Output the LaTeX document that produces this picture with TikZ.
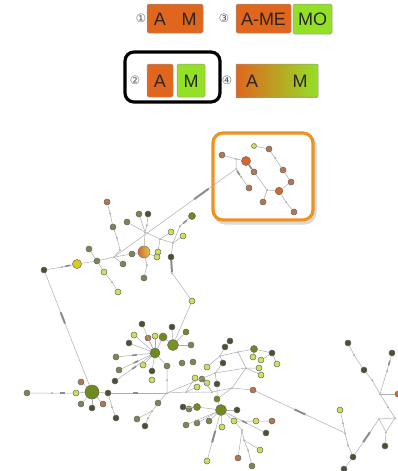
\documentclass[tikz,border=0pt]{standalone}
\usepackage{fontspec}
\setmainfont{Liberation Sans}
\newfontfamily\symf{DejaVu Sans}
\definecolor{ygc}{HTML}{D2DE5A}
\definecolor{dkc}{HTML}{4B5233}
\definecolor{ggc}{HTML}{7E8452}
\definecolor{grc}{HTML}{6F8A1E}
\definecolor{brc}{HTML}{B5764E}
\definecolor{orc}{HTML}{D9652A}
\definecolor{legor}{HTML}{E0661E}
\definecolor{leggr}{HTML}{94E026}
\definecolor{frameor}{HTML}{F0921E}
\tikzset{
 nd/.style={circle, draw=black!60, line width=0.5pt, inner sep=0pt, minimum size=6pt},
 yg/.style={nd, fill=ygc},
 dk/.style={nd, fill=dkc},
 gg/.style={nd, fill=ggc},
 gr/.style={nd, fill=grc},
 br/.style={nd, fill=brc},
 orn/.style={nd, fill=orc},
 dt/.style={circle, fill=black!40, inner sep=0pt, minimum size=2pt},
 ed/.style={draw=black!32, line width=0.5pt},
 tk/.style={sloped, fill=black!45, inner sep=0pt, minimum width=5pt, minimum height=1.6pt},
 tkl/.style={sloped, fill=black!45, inner sep=0pt, minimum width=12pt, minimum height=2pt},
 lbox/.style={draw=black!40, line width=0.5pt, rounded corners=1.5pt},
 ltxt/.style={font=\fontsize{18}{18}\selectfont, inner sep=0pt, text=black!85},
 cnum/.style={font=\symf\fontsize{11.5}{11.5}\selectfont, inner sep=0pt, text=black!65}
}
\begin{document}
\begin{tikzpicture}[x=1pt,y=-1pt]
\useasboundingbox (0,0) rectangle (398,471);
% ---------------- legend
\node[cnum] (c1) at (141,18) {①};
\draw[lbox, fill=legor] (147,4) rectangle (203,33);
\node[ltxt] (t1a) at (160,19) {A};
\node[ltxt] (t1m) at (189,19) {M};
\node[cnum] (c3) at (224,18) {③};
\draw[lbox, fill=legor] (236,4) rectangle (291,33);
\node[ltxt] (t3a) at (263.5,19) {A-ME};
\draw[lbox, fill=leggr] (293,4) rectangle (332,34);
\node[ltxt] (t3m) at (312.5,19) {MO};
\node[cnum] (c2) at (135,80) {②};
\draw[lbox, fill=legor] (147,64) rectangle (173,97);
\node[ltxt] (t2a) at (160,81) {A};
\draw[lbox, fill=leggr] (177,64) rectangle (205,97);
\node[ltxt] (t2m) at (191,81) {M};
\draw[line width=3.2pt, rounded corners=9pt] (125,52) rectangle (220,102);
\node[cnum] (c4) at (227,80) {④};
\shade[left color=legor, right color=leggr] (236,64) rectangle (318,97);
\draw[lbox] (236,64) rectangle (318,97);
\node[ltxt] (t4a) at (252,81) {A};
\node[ltxt] (t4m) at (300,81) {M};
% ---------------- orange frame
\draw[black!15, line width=3pt, rounded corners=10pt] (215,136) rectangle (315,223);
\draw[frameor, line width=3.2pt, rounded corners=10pt, fill=white] (213,133) rectangle (313,220);
% orange cluster nodes
\node[yg, minimum size=5pt] (o1) at (254,146) {};
\node[br] (o2) at (269,149) {};
\node[br] (o3) at (222,155) {};
\node[orn, minimum size=9pt] (o4) at (246,161) {};
\node[dt] (od1) at (236,159) {};
\node[dt] (od2) at (236,169) {};
\node[br] (o5) at (254,172) {};
\node[br] (o6) at (283,170) {};
\node[br] (o7) at (291,182) {};
\node[orn, minimum size=7.5pt] (o8) at (279,191) {};
\node[br] (o9) at (249,188) {};
\node[br] (o10) at (263,202) {};
\node[br] (o11) at (294,212) {};
\node[dt] (od3) at (275,158) {};
\node[dt] (od4) at (267,190) {};
\node[dt] (od5) at (241,177) {};
\node[dt] (od6) at (286,202) {};
\path[ed] (o1) -- (o2) -- (od3) -- (o6) -- (o7) -- (o8) -- (od6) -- (o11);
\path[ed] (o3) -- (od1) -- (o4);
\path[ed] (od1) -- (od2) -- node[tk] {} (od5) -- (o9);
\path[ed] (o4) -- node[tk] {} (o5) -- (od4) -- (o8);
\path[ed] (od4) -- (o10);
% ---------------- cluster 1
\node[br] (a1) at (107,202) {};
\node[dt] (a2) at (110,213) {};
\node[gg] (a3) at (113,227) {};
\node[gg] (a4) at (127,222) {};
\node[gg] (a5) at (139,214) {};
\node[dk] (a6) at (148,214) {};
\node[gr, minimum size=7pt] (a7) at (192,216) {};
\node[dt] (a8) at (147,225) {};
\node[dt] (a9) at (145,232) {};
\node[yg] (a10) at (171,232) {};
\node[yg] (a11) at (183,236) {};
\node[dt] (a12) at (160,239) {};
\node[dt] (a13) at (173,243) {};
\node[dt] (a14) at (117,238) {};
\node[dt] (a15) at (120,250) {};
\node[gg] (a16) at (89,249) {};
\node[circle, draw=black!55, line width=0.5pt, inner sep=0pt, minimum size=12pt, left color=orc, right color=ygc!80!orange] (a17) at (144,252) {};
\node[gg] (a18) at (132,254) {};
\node[yg] (a19) at (158,252) {};
\node[yg] (a20) at (157,257) {};
\node[dk] (a21) at (171,257) {};
\node[dt] (a22) at (114,257) {};
\node[gg] (a23) at (97,261) {};
\node[gg] (a24) at (123,264) {};
\node[nd, fill={rgb,255:red,214;green,205;blue,30}, minimum size=9pt] (a25) at (77,264) {};
\node[dt] (a26) at (62,267) {};
\node[dk] (a27) at (44,270) {};
\node[yg] (a28) at (104,272) {};
\node[gg] (a29) at (144,278) {};
\node[dt] (a30) at (147,265) {};
\node[dt] (a31) at (112,282) {};
\node[yg] (a32) at (118,292) {};
\node[dt] (a33) at (172,273) {};
\node[yg] (a34) at (192,301) {};
\node[dt] (a35) at (180,226) {};
\path[ed] (a1) -- (a2) -- (a3) -- (a14) -- (a15) -- (a22);
\path[ed] (a5) -- (a9);
\path[ed] (a6) -- (a8) -- (a9) -- (a17);
\path[ed] (a4) -- (a9);
\path[ed] (a9) -- (a12) -- (a10);
\path[ed] (a12) -- (a19);
\path[ed] (a12) -- (a13) -- (a21);
\path[ed] (a13) -- (a11);
\path[ed] (a7) -- node[tk] {} (a35) -- (a13);
\path[ed] (a22) -- (a18) -- (a17);
\path[ed] (a25) -- (a23) -- (a22);
\path[ed] (a23) -- (a16);
\path[ed] (a23) -- (a28) -- (a31) -- (a32);
\path[ed] (a22) -- (a24);
\path[ed] (a17) -- (a30) -- (a29);
\path[ed] (a17) -- (a20);
\path[ed] (a21) -- node[tkl] {} (a33) -- (a34);
\path[ed] (a25) -- node[tk] {} (a26) -- (a27);
\path[ed] (a22) -- node[pos=0.72, tkl, minimum width=18pt] {} (od2);
% ---------------- cluster b
\node[nd, fill=grc, minimum size=14pt] (b1) at (92,392) {};
\node[br] (b2) at (81,382) {};
\node[yg] (b3) at (76,393) {};
\node[gg] (b4) at (27,393) {};
\node[dt] (b5) at (52,393) {};
\node[gg] (b6) at (81,404) {};
\node[dk] (b7) at (92,408) {};
\node[br] (b8) at (103,404) {};
\node[dk] (b9) at (108,393) {};
\node[dt] (b10) at (112,407) {};
\node[dk] (b11) at (116,418) {};
\node[dt] (b12) at (167,393) {};
\path[ed] (a27) -- node[pos=0.4, tkl] {} (b1);
\path[ed] (b1) -- (b2);
\path[ed] (b1) -- (b3) -- node[tk] {} (b5) -- (b4);
\path[ed] (b1) -- (b6);
\path[ed] (b1) -- (b7);
\path[ed] (b1) -- (b8);
\path[ed] (b1) -- (b9) -- (b10) -- (b11);
\path[ed] (b9) -- node[pos=0.45, tk] {} (b12);
% ---------------- cluster c
\node[gg] (c1) at (158,403) {};
\node[gg] (c2) at (137,419) {};
\node[dk] (c3) at (145,426) {};
\node[dt] (c4) at (167,380) {};
\node[gg] (c5) at (167,366) {};
\node[yg] (c6) at (152,380) {};
\node[dk] (c7) at (152,371) {};
\node[yg] (c8) at (143,365) {};
\node[nd, fill=grc, minimum size=10pt] (c9) at (155,353) {};
\node[nd, fill=grc!90!ygc, minimum size=11pt] (c10) at (173,345) {};
\node[gr, minimum size=8pt] (c11) at (163,337) {};
\node[yg] (c12) at (155,336) {};
\node[br] (c13) at (148,338) {};
\node[yg] (c14) at (134,335) {};
\node[dk] (c15) at (129,343) {};
\node[dk] (c16) at (142,324) {};
\node[dk] (c17) at (172,327) {};
\node[gr] (c18) at (186,332) {};
\node[gg] (c19) at (191,345) {};
\node[gg] (c20) at (116,357) {};
\node[gg] (c21) at (119,370) {};
\node[dk] (c22) at (115,381) {};
\node[gg] (c23) at (182,363) {};
\node[gg] (c24) at (193,362) {};
\node[dt] (c25) at (152,411) {};
\node[dt] (c26) at (148,418) {};
\path[ed] (b12) -- (c1) -- (c25) -- (c2);
\path[ed] (c25) -- (c26) -- (c3);
\path[ed] (b12) -- (c4) -- (c5) -- (c9);
\path[ed] (c9) -- (c7);
\path[ed] (c9) -- (c8);
\path[ed] (c9) -- (c12);
\path[ed] (c9) -- (c13);
\path[ed] (c9) -- (c14);
\path[ed] (c9) -- (c15);
\path[ed] (c9) -- (c16);
\path[ed] (c9) -- node[tk] {} (c20);
\path[ed] (c9) -- node[tk] {} (c21);
\path[ed] (c9) -- node[tk] {} (c22);
\path[ed] (c9) -- (c11);
\path[ed] (c11) -- (c10);
\path[ed] (c10) -- (c17);
\path[ed] (c10) -- (c18);
\path[ed] (c10) -- (c19);
\path[ed] (a34) -- (c10);
% ---------------- cluster d
\node[dk] (d1) at (230,341) {};
\node[dk] (d2) at (225,347) {};
\node[yg] (d3) at (207,367) {};
\node[dk] (d4) at (223,363) {};
\node[gr, minimum size=7pt] (d5) at (254,349) {};
\node[dk] (d6) at (272,353) {};
\node[yg] (d7) at (253,357) {};
\node[yg] (d8) at (261,360) {};
\node[yg] (d9) at (277,364) {};
\node[yg] (d10) at (259,368) {};
\node[yg] (d11) at (261,375) {};
\node[yg] (d12) at (195,378) {};
\node[gg] (d13) at (202,379) {};
\node[yg] (d14) at (207,383) {};
\node[yg] (d15) at (197,387) {};
\node[dk] (d16) at (217,384) {};
\node[br] (d17) at (253,390) {};
\node[gr] (d18) at (217,399) {};
\node[gr, minimum size=7pt] (d19) at (197,407) {};
\node[nd, fill=grc, minimum size=11pt] (d20) at (221,410) {};
\node[dk] (d21) at (237,410) {};
\node[dk] (d22) at (183,407) {};
\node[gg] (d23) at (189,409) {};
\node[gg] (d24) at (186,425) {};
\node[gg] (d25) at (197,423) {};
\node[gg] (d26) at (209,421) {};
\node[yg] (d27) at (222,427) {};
\node[yg] (d28) at (234,421) {};
\node[yg] (d29) at (256,421) {};
\node[br] (d30) at (272,421) {};
\node[dk] (d31) at (266,433) {};
\node[yg] (d32) at (260,450) {};
\node[br] (d33) at (238,458) {};
\node[gg] (d34) at (252,466) {};
\node[yg] (d35) at (207,461) {};
\node[dt] (dj1) at (220,356) {};
\node[dt] (dj2) at (238,352) {};
\node[dt] (dj3) at (246,368) {};
\node[dt] (dj4) at (212,392) {};
\node[dt] (dj5) at (232,388) {};
\node[dt] (dj6) at (244,440) {};
\node[dt] (dj7) at (248,450) {};
\node[dt] (dj8) at (215,373) {};
\node[dt] (dj9) at (186,392) {};
\node[dt] (dj10) at (242,430) {};
\path[ed] (d1) -- (d2) -- (dj1) -- (d4);
\path[ed] (dj1) -- (dj2) -- (d5);
\path[ed] (d5) -- (d6);
\path[ed] (d5) -- (d7);
\path[ed] (d6) -- (d8);
\path[ed] (d6) -- (d9);
\path[ed] (dj2) -- (dj3) -- (d10);
\path[ed] (dj3) -- (d11);
\path[ed] (d4) -- (dj8) -- (dj3);
\path[ed] (dj1) -- (d3);
\path[ed] (dj8) -- (d16);
\path[ed] (b12) -- (dj9) -- (dj4) -- (dj5) -- (d17);
\path[ed] (b12) -- (dj8);
\path[ed] (dj9) -- (d15);
\path[ed] (dj9) -- (d12);
\path[ed] (dj4) -- (d13);
\path[ed] (dj4) -- (d14);
\path[ed] (d16) -- (d18) -- (d20);
\path[ed] (dj5) -- (d18);
\path[ed] (dj3) -- (dj5);
\path[ed] (d20) -- (d21);
\path[ed] (d20) -- (d19);
\path[ed] (d19) -- (d22);
\path[ed] (d19) -- (d23);
\path[ed] (d20) -- (d24);
\path[ed] (d20) -- (d25);
\path[ed] (d20) -- (d26);
\path[ed] (d20) -- (d27);
\path[ed] (d20) -- (d28) -- (d29) -- (d30);
\path[ed] (d20) -- node[tk] {} (d31);
\path[ed] (d20) -- node[tkl] {} (d35);
\path[ed] (d28) -- (dj10) -- (dj6) -- (d32);
\path[ed] (dj10) -- (d33);
\path[ed] (dj6) -- (dj7) -- (d34);
% ---------------- cluster e
\node[yg] (e1) at (340,410) {};
\node[dt] (e2) at (343,423) {};
\node[dt] (eL) at (345,433) {};
\node[dt] (e3) at (348,445) {};
\node[dk] (e4) at (353,457) {};
\node[dk] (e5) at (344,469) {};
\node[dk] (e6) at (348,343) {};
\node[dt] (e7) at (354,355) {};
\node[dk] (e8) at (364,370) {};
\node[dt] (e9) at (372,380) {};
\node[dt] (e10) at (380,394) {};
\node[orn] (e11) at (398,394) {};
\node[dk] (e12) at (392,353) {};
\node[dt] (e13) at (387,371) {};
\node[dt] (e14) at (388,407) {};
\node[dt] (e15) at (379,419) {};
\node[dt] (e16) at (395,418) {};
\node[dt] (e17) at (386,432) {};
\node[dk] (e18) at (385,446) {};
\path[ed] (d17) -- node[pos=0.5, tkl] {} (eL);
\path[ed] (e1) -- (e2) -- (eL) -- (e3) -- (e4) -- (e5);
\path[ed] (e4) -- node[tkl] {} (e15);
\path[ed] (e15) -- (e16);
\path[ed] (e15) -- (e17);
\path[ed] (e16) -- (e17) -- (e18);
\path[ed] (e10) -- (e14) -- (e16);
\path[ed] (e6) -- (e7) -- (e8) -- (e9) -- (e10);
\path[ed] (e12) -- node[tk] {} (e13) -- (e10);
\path[ed] (e10) -- (e11);
\end{tikzpicture}
\end{document}
